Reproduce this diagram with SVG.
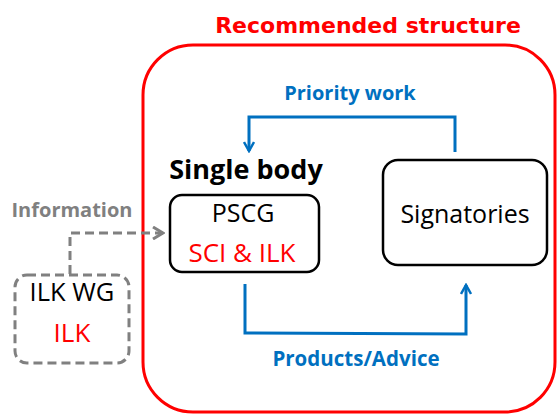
<svg xmlns="http://www.w3.org/2000/svg" width="557" height="414" viewBox="0 0 557 414">
<defs>
<style>
text{font-family:"Open Sans","Noto Sans","Liberation Sans",sans-serif;text-anchor:middle}
.t{font-family:"DejaVu Sans","Liberation Sans",sans-serif;font-weight:bold}
.b{font-weight:bold}
.blue{fill:#0070C0}
.red{fill:#FF0000}
.gray{fill:#808080}
.blk{fill:#000}
.box{fill:#fff;stroke:#000;stroke-width:2.5}
.flow{fill:none;stroke:#0070C0;stroke-width:3}
.dash{fill:none;stroke:#808080;stroke-width:3;stroke-dasharray:9 5}
</style>
<marker id="ab" viewBox="0 0 12 12" refX="10" refY="6" markerWidth="12" markerHeight="12" markerUnits="userSpaceOnUse" orient="auto">
<path d="M1,1 L10,6 L1,11" fill="none" stroke="#0070C0" stroke-width="2.5"/>
</marker>
<marker id="ag" viewBox="0 0 14 14" refX="12" refY="7" markerWidth="14" markerHeight="14" markerUnits="userSpaceOnUse" orient="auto">
<path d="M2,1 L12,7 L2,13" fill="none" stroke="#808080" stroke-width="3"/>
</marker>
</defs>
<rect width="557" height="414" fill="#fff"/>
<g id="structure">
<rect x="143" y="45" width="412" height="367" rx="50" fill="none" stroke="#FF0000" stroke-width="3"/>
<text x="368" y="33" class="t red" font-size="22">Recommended structure</text>
</g>
<g id="connectors">
<polyline class="flow" points="455,152 455,117 249,117 249,151" marker-end="url(#ab)"/>
<polyline class="flow" points="245,284 245,333 466,334 466,285" marker-end="url(#ab)"/>
<polyline class="dash" points="70,274 70,233 163,233" marker-end="url(#ag)"/>
<text x="350" y="100" class="b blue" font-size="20">Priority work</text>
<text x="356" y="366" class="b blue" font-size="20.5">Products/Advice</text>
<text x="72" y="217" class="b gray" font-size="20">Information</text>
</g>
<g id="pscg">
<text x="246" y="179" class="b blk" font-size="27">Single body</text>
<rect class="box" x="170" y="195" width="149" height="77" rx="12"/>
<text x="243" y="222" class="blk" font-size="25">PSCG</text>
<text x="242" y="262" class="red" font-size="26">SCI &amp; ILK</text>
</g>
<g id="signatories">
<rect class="box" x="383" y="160" width="164" height="105" rx="15"/>
<text x="465" y="223" class="blk" font-size="25">Signatories</text>
</g>
<g id="ilkwg">
<rect x="15" y="275" width="114" height="88" rx="12" fill="#fff" stroke="#808080" stroke-width="3" stroke-dasharray="9 5"/>
<text x="72" y="301" class="blk" font-size="25.5">ILK WG</text>
<text x="72" y="342" class="red" font-size="26">ILK</text>
</g>
</svg>
